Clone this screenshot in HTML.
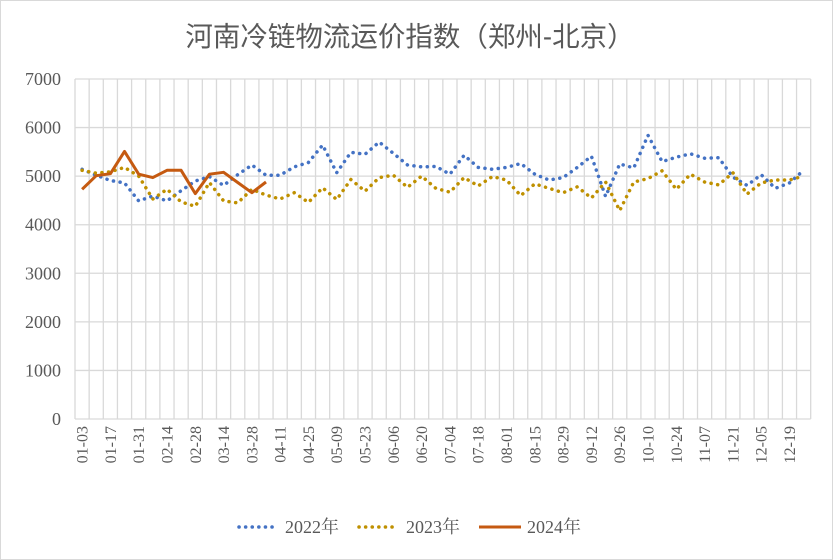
<!DOCTYPE html>
<html><head><meta charset="utf-8">
<style>
html,body{margin:0;padding:0;background:#fff;}
#chart{width:833px;height:560px;display:block;}
</style></head>
<body>
<svg id="chart" width="833" height="560" xmlns="http://www.w3.org/2000/svg">
<rect x="0.5" y="0.5" width="832" height="559" fill="#fff" stroke="#d9d9d9"/>
<text x="410" y="46" text-anchor="middle" font-family="'Liberation Sans','Noto Sans CJK SC',sans-serif" font-size="27.5" fill="#595959">河南冷链物流运价指数（郑州-北京）</text>
<g id="grid"></g>
<g id="yaxis"></g>
<g id="xaxis"></g>
<g id="series"></g>
<g id="legend">
  <line x1="239" y1="527" x2="278" y2="527" stroke="#4472C4" stroke-width="3.5" stroke-linecap="round" stroke-dasharray="0.1 6.5"/>
  <text x="285" y="533" font-family="'Liberation Serif','Noto Serif CJK SC',serif" font-size="18" fill="#595959">2022年</text>
  <line x1="359" y1="527" x2="398" y2="527" stroke="#BF9000" stroke-width="3.5" stroke-linecap="round" stroke-dasharray="0.1 6.5"/>
  <text x="406" y="533" font-family="'Liberation Serif','Noto Serif CJK SC',serif" font-size="18" fill="#595959">2023年</text>
  <line x1="479" y1="527" x2="521" y2="527" stroke="#C55A11" stroke-width="3"/>
  <text x="527" y="533" font-family="'Liberation Serif','Noto Serif CJK SC',serif" font-size="18" fill="#595959">2024年</text>
</g>
</svg>
<script>
const weekLabels = ["01-03","01-10","01-17","01-24","01-31","02-07","02-14","02-21","02-28","03-07","03-14","03-21","03-28","04-04","04-11","04-18","04-25","05-02","05-09","05-16","05-23","05-30","06-06","06-13","06-20","06-27","07-04","07-11","07-18","07-25","08-01","08-08","08-15","08-22","08-29","09-05","09-12","09-19","09-26","10-03","10-10","10-17","10-24","10-31","11-07","11-14","11-21","11-28","12-05","12-12","12-19","12-26"];
const yTicks = [0,1000,2000,3000,4000,5000,6000,7000];
const values2022 = [5140,5020,4910,4860,4490,4590,4490,4700,4900,4990,4810,5030,5230,5020,5020,5190,5280,5640,5070,5490,5450,5700,5470,5230,5190,5200,5040,5430,5180,5140,5180,5260,5040,4920,4970,5180,5410,4580,5250,5170,5840,5300,5390,5460,5370,5380,4980,4810,5030,4750,4860,5120];
const values2023 = [5120,5060,5090,5180,5000,4530,4730,4470,4380,4870,4490,4450,4730,4610,4530,4660,4460,4760,4520,4930,4690,4970,5020,4770,5000,4750,4670,4970,4800,4990,4920,4600,4840,4750,4660,4780,4550,4880,4290,4880,4950,5110,4730,5040,4880,4820,5070,4630,4860,4920,4920,5000];
const values2024 = [4730,5010,5050,5510,5040,4970,5120,5120,4640,5040,5080,4870,4660,4880];

const NS = "http://www.w3.org/2000/svg";
const L = 75, R = 810.7, T = 79, B = 419, YMAX = 7000;
const step = (R - L) / weekLabels.length;
const xPos = i => L + step * (i + 0.5);
const yPos = v => B - v / YMAX * (B - T);
const mk = (tag, attrs, parent) => { const e = document.createElementNS(NS, tag); for (const k in attrs) e.setAttribute(k, attrs[k]); parent.appendChild(e); return e; };

const grid = document.getElementById('grid');
yTicks.forEach(t => {
  const ln = mk('line', {x1: L, x2: R, y1: yPos(t), y2: yPos(t), stroke: '#d9d9d9', 'stroke-width': 1.3}, grid);
  
  
});
for (let i = 0; i <= weekLabels.length; i++) {
  const x = L + step * i;
  const ln = mk('line', {x1: x, x2: x, y1: T, y2: B, stroke: '#d9d9d9', 'stroke-width': 1.3}, grid);
  
  
}
const yax = document.getElementById('yaxis');
yTicks.forEach(t => {
  const tx = mk('text', {x: 61, y: yPos(t) + 6, 'text-anchor': 'end', 'font-family': "'Liberation Serif',serif", 'font-size': 18, fill: '#595959'}, yax);
  tx.textContent = t;
  
  
});
const xax = document.getElementById('xaxis');
weekLabels.forEach((lab, i) => {
  if (i % 2 !== 0) return;
  const x = xPos(i) + 5.5, y = 426;
  const tx = mk('text', {x: x, y: y, 'text-anchor': 'end', transform: `rotate(-90 ${x} ${y})`, 'font-family': "'Liberation Serif',serif", 'font-size': 16, fill: '#595959'}, xax);
  tx.textContent = lab;
  
  
});
const ser = document.getElementById('series');
function drawLine(vals, color, dotted, name) {
  const pts = vals.map((v, i) => xPos(i).toFixed(1) + ',' + yPos(v).toFixed(1)).join(' ');
  const attrs = {points: pts, fill: 'none', stroke: color, 'stroke-linejoin': 'round'};
  if (dotted) { attrs['stroke-width'] = 3.5; attrs['stroke-linecap'] = 'round'; attrs['stroke-dasharray'] = '0.1 6.6'; }
  else { attrs['stroke-width'] = 3; }
  const pl = mk('polyline', attrs, ser);
  
  
}
drawLine(values2022, '#4472C4', true, 'line-2022');
drawLine(values2023, '#BF9000', true, 'line-2023');
drawLine(values2024, '#C55A11', false, 'line-2024');
</script>
</body></html>
